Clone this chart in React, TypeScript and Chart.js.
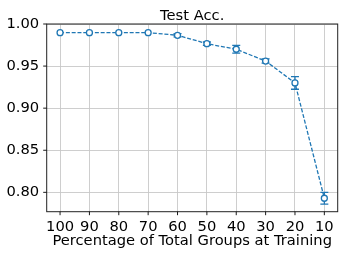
import React, { useEffect, useRef } from "react";
import { Chart, registerables } from "chart.js";
Chart.register(...registerables);

const categories = ["100", "90", "80", "70", "60", "50", "40", "30", "20", "10"];
const accMean = [0.9897, 0.9897, 0.9897, 0.9897, 0.9866, 0.9766, 0.970, 0.956, 0.930, 0.793];
const accErr = [0.0, 0.0, 0.0, 0.0, 0.002, 0.002, 0.0045, 0.0025, 0.0075, 0.007];
const yTicks = [0.8, 0.85, 0.9, 0.95, 1.0];
const titleText = "Test Acc.";
const xLabel = "Percentage of Total Groups at Training";

const BLUE = "#1f77b4";
const FONT = "'DejaVu Sans', sans-serif";
const FS = 14.7;

export default function App() {
  const ref = useRef<HTMLCanvasElement | null>(null);
  useEffect(() => {
    document.body.style.margin = "0";
    const canvas = ref.current!;
    const extras = {
      id: "extras",
      beforeDatasetsDraw(chart: any) {
        const ctx = chart.ctx;
        const xs = chart.scales.x;
        const ys = chart.scales.y;
        ctx.save();
        ctx.strokeStyle = BLUE;
        ctx.lineWidth = 1.3;
        ctx.setLineDash([]);
        accMean.forEach((m, i) => {
          const e = accErr[i];
          if (e <= 0) return;
          const px = xs.getPixelForValue(i);
          const t = ys.getPixelForValue(m + e);
          const b = ys.getPixelForValue(m - e);
          ctx.beginPath();
          ctx.moveTo(px, t);
          ctx.lineTo(px, b);
          ctx.moveTo(px - 4, t);
          ctx.lineTo(px + 4, t);
          ctx.moveTo(px - 4, b);
          ctx.lineTo(px + 4, b);
          ctx.stroke();
        });
        ctx.restore();
      },
      afterDraw(chart: any) {
        const ctx = chart.ctx;
        const a = chart.chartArea;
        const xs = chart.scales.x;
        const ys = chart.scales.y;
        ctx.save();
        // spines
        ctx.strokeStyle = "#222";
        ctx.lineWidth = 1;
        ctx.strokeRect(a.left, a.top, a.right - a.left, a.bottom - a.top);
        // tick marks
        ctx.strokeStyle = "#000";
        ctx.lineWidth = 0.9;
        ctx.beginPath();
        categories.forEach((_, i) => {
          const px = xs.getPixelForValue(i);
          ctx.moveTo(px, a.bottom);
          ctx.lineTo(px, a.bottom + 3.5);
        });
        yTicks.forEach((v) => {
          const py = ys.getPixelForValue(v);
          ctx.moveTo(a.left, py);
          ctx.lineTo(a.left - 3.5, py);
        });
        ctx.stroke();
        // title
        ctx.fillStyle = "#000";
        ctx.font = `${FS}px ${FONT}`;
        ctx.textAlign = "center";
        ctx.textBaseline = "alphabetic";
        ctx.fillText(titleText, (a.left + a.right) / 2, 20);
        // x label
        ctx.fillText(xLabel, (a.left + a.right) / 2, 245);
        ctx.restore();
      },
    };
    const chart = new Chart(canvas, {
      type: "line",
      data: {
        datasets: [
          {
            data: accMean.map((v, i) => ({ x: i, y: v })),
            borderColor: BLUE,
            borderWidth: 1.3,
            borderDash: [4, 1.8],
            pointRadius: 3,
            pointBorderWidth: 1.3,
            pointBackgroundColor: "#fff",
            pointBorderColor: BLUE,
            tension: 0,
            fill: false,
          },
        ],
      },
      plugins: [extras],
      options: {
        animation: false,
        responsive: false,
        devicePixelRatio: 1,
        layout: { padding: { top: 24, right: 8.3, left: 0, bottom: 0 } },
        plugins: {
          legend: { display: false },
          tooltip: { enabled: false },
          title: { display: false },
        },
        scales: {
          x: {
            type: "linear",
            min: -0.455,
            max: 9.455,
            afterBuildTicks: (s: any) => {
              s.ticks = categories.map((_, i) => ({ value: i }));
            },
            ticks: {
              callback: (v: any) => categories[Math.round(v)] ?? "",
              color: "#000",
              font: { family: FONT, size: FS },
              padding: 7,
              maxRotation: 0,
              autoSkip: false,
            },
            grid: { color: "#c8c8c8", lineWidth: 0.9, drawTicks: false },
            border: { display: false },
            afterFit: (s: any) => {
              s.height = 259 - 211.7;
            },
          },
          y: {
            min: 0.777,
            max: 1.0,
            afterBuildTicks: (s: any) => {
              s.ticks = yTicks.map((v) => ({ value: v }));
            },
            ticks: {
              callback: (v: any) => Number(v).toFixed(2),
              color: "#000",
              font: { family: FONT, size: FS },
              padding: 7.5,
            },
            grid: { color: "#c8c8c8", lineWidth: 0.9, drawTicks: false },
            border: { display: false },
            afterFit: (s: any) => {
              s.width = 46.7;
            },
          },
        },
      },
    } as any);
    return () => chart.destroy();
  }, []);
  return <canvas ref={ref} width={346} height={259} style={{ display: "block" }} />;
}
